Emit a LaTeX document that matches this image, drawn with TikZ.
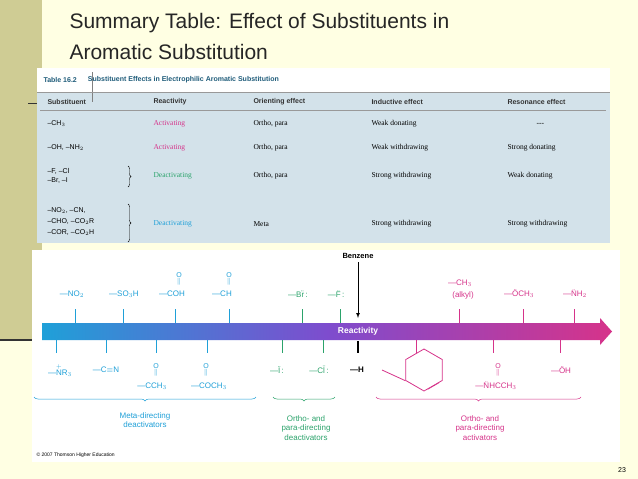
\documentclass[tikz,border=0pt]{standalone}
\usepackage{amsmath}
\usepackage{fontspec}
\setmainfont{Liberation Sans}
\newfontfamily\serif{Liberation Serif}
\usetikzlibrary{positioning,decorations.pathreplacing,shapes.geometric,calc}
\definecolor{slide}{HTML}{FFFFE3}
\definecolor{strip}{HTML}{CFCC94}
\definecolor{tbl}{HTML}{D3E2EA}
\definecolor{teal}{HTML}{1F5C7A}
\definecolor{meta}{HTML}{1FA0D8}
\definecolor{ogreen}{HTML}{2BA36B}
\definecolor{act}{HTML}{D6338A}
\tikzset{
  hd/.style={font=\fontsize{7}{8}\selectfont\bfseries, anchor=west, text=black!80},
  cell/.style={font=\fontsize{7.5}{9}\selectfont\serif, anchor=west},
  sub/.style={font=\fontsize{7}{8.5}\selectfont, anchor=west, align=left},
  chem/.style={font=\fontsize{8}{9}\selectfont, inner sep=1pt},
  grp/.style={font=\fontsize{8}{9.5}\selectfont, align=center},
  tick/.style={line width=0.7pt},
  brc/.style={decorate, decoration={brace, amplitude=4pt, mirror}, line width=0.5pt},
  sbrc/.style={decorate, decoration={brace, amplitude=3pt}, line width=0.4pt}
}
\begin{document}
\begin{tikzpicture}[x=1pt,y=-1pt]
\useasboundingbox (0,0) rectangle (638,479);
\fill[slide] (0,0) rectangle (638,479);
\fill[strip] (0,0) rectangle (42,340);
\draw[line width=1.5pt, black!80] (0,340) -- (32,340);
\draw[line width=1pt, black!80] (28,103) -- (38,103);
% title
\node (title) [anchor=north west, align=left, font=\fontsize{21}{31}\selectfont, text=black!85] at (66,10) {Summary Table: Effect of Substituents in\\Aromatic Substitution};

% table
\fill[white] (37,68) rectangle (610,92);
\fill[tbl] (37,92) rectangle (610,243);
\node (tnum) [hd, text=teal] at (40,80) {Table 16.2};
\draw[black!50] (92,72) -- (92,102);
\node (tcap) [hd, text=teal, right=4pt of tnum] {Substituent Effects in Electrophilic Aromatic Substitution};
\draw[black!40] (37,92) -- (610,92);
\draw[black!40] (40,110) -- (606,110);
\node (h1) [hd] at (44,102) {Substituent};
\node (h2) [hd] at (150,102) {Reactivity};
\node (h3) [hd] at (250,102) {Orienting effect};
\node (h4) [hd] at (368,102) {Inductive effect};
\node (h5) [hd] at (504,102) {Resonance effect};
% rows
\node (s1) [sub] at (44,124) {--CH$_3$};
\node (r1) [cell, text=act] at (150,124) {Activating};
\node (o1) [cell] at (250,124) {Ortho, para};
\node (i1) [cell] at (368,124) {Weak donating};
\node (e1) [cell] at (533,124) {---};
\node (s2) [sub] at (44,148) {--OH, --NH$_2$};
\node (r2) [cell, text=act] at (150,148) {Activating};
\node (o2) [cell] at (250,148) {Ortho, para};
\node (i2) [cell] at (368,148) {Weak withdrawing};
\node (e2) [cell] at (504,148) {Strong donating};
\node (s3) [sub] at (44,176) {--F, --Cl\\--Br, --I};
\draw[sbrc] (128,166) -- (128,187);
\node (r3) [cell, text=ogreen] at (150,176) {Deactivating};
\node (o3) [cell] at (250,176) {Ortho, para};
\node (i3) [cell] at (368,176) {Strong withdrawing};
\node (e3) [cell] at (504,176) {Weak donating};
\node (s4) [sub, font=\fontsize{7}{11}\selectfont] at (44,222) {--NO$_2$, --CN,\\--CHO, --CO$_2$R\\--COR, --CO$_2$H};
\draw[sbrc] (128,204) -- (128,242);
\node (r4) [cell, text=meta] at (150,224) {Deactivating};
\node (o4) [cell] at (250,224) {Meta};
\node (i4) [cell] at (368,224) {Strong withdrawing};
\node (e4) [cell] at (504,224) {Strong withdrawing};

% reactivity figure
\fill[white] (32,250) rectangle (620,462);
\shade[left color=meta, right color=act, middle color=blue!45!violet!70]
  (42,323) -- (600,323) -- (600,318) -- (612,331.5) -- (600,345) -- (600,340) -- (42,340) -- cycle;
\node (react) [font=\fontsize{8.5}{9}\selectfont\bfseries, text=white] at (358,331.5) {Reactivity};
\node (benz) [font=\fontsize{7.5}{9}\selectfont\bfseries] at (358,256) {Benzene};
\coordinate (benzend) at (358,318);
\draw[-latex, line width=0.7pt] (benz) -- (benzend);
% ticks
\foreach \x in {75,123,175,229} \draw[tick, meta] (\x,309) -- (\x,323);
\foreach \x in {302,340} \draw[tick, ogreen] (\x,309) -- (\x,323);
\foreach \x in {459,523,574} \draw[tick, act] (\x,309) -- (\x,323);
\foreach \x in {56,106,156,207} \draw[tick, meta] (\x,340) -- (\x,353);
\foreach \x in {282,323} \draw[tick, ogreen] (\x,340) -- (\x,353);
\foreach \x in {416,493,560} \draw[tick, act] (\x,340) -- (\x,353);
\draw[line width=1.6pt] (358,341) -- (358,353);
% top labels
\node (no2) [chem, text=meta] at (72,294) {---NO$_2$};
\node (so3h) [chem, text=meta] at (124,294) {---SO$_3$H};
\node (coh) [chem, text=meta] at (172,294) {---COH};
\node (coho) [chem, text=meta, align=center, font=\fontsize{7}{5}\selectfont] at (179,279) {O\\$\|$};
\node (ch) [chem, text=meta] at (222,294) {---CH};
\node (cho) [chem, text=meta, align=center, font=\fontsize{7}{5}\selectfont] at (229,279) {O\\$\|$};
\node (br) [chem, text=ogreen] at (298,294) {---B\"r\,:};
\node (f) [chem, text=ogreen] at (336,294) {---\"F\,:};
\node (ch3) [chem, text=act] at (460,283) {---CH$_3$};
\node (alkyl) [chem, text=act] at (463,295) {(alkyl)};
\node (och3) [chem, text=act] at (519,294) {---\"OCH$_3$};
\node (nh2) [chem, text=act] at (575,294) {---\"NH$_2$};
% bottom labels
\node (nr3) [chem, text=meta] at (60,370) {---$\overset{+}{\mathrm{N}}$R$_3$};
\node (cn) [chem, text=meta] at (106,370) {---C$\equiv$N};
\node (cch3) [chem, text=meta] at (152,386) {---CCH$_3$};
\node (cch3o) [chem, text=meta, align=center, font=\fontsize{7}{5}\selectfont] at (156,370) {O\\$\|$};
\node (coch3) [chem, text=meta] at (209,386) {---COCH$_3$};
\node (coch3o) [chem, text=meta, align=center, font=\fontsize{7}{5}\selectfont] at (206,370) {O\\$\|$};
\node (iod) [chem, text=ogreen] at (277,370) {---\"I\,:};
\node (cl) [chem, text=ogreen] at (319,370) {---C\"l\,:};
\node (hyd) [chem, font=\fontsize{8}{9}\selectfont\bfseries] at (357,370) {---H};
\node[draw=act, line width=0.8pt, regular polygon, regular polygon sides=6, minimum size=42pt, inner sep=0pt, rotate=90] (ring) at (424,370) {};
\coordinate (rstub) at (382,370);
\draw[act, line width=0.8pt] (rstub) -- (ring.corner 2);
\draw[act, line width=0.6pt] ($(ring.corner 3)!0.2!(ring.corner 4)$) -- ($(ring.corner 3)!0.8!(ring.corner 4)$);
\node (nhcch3) [chem, text=act] at (496,386) {---\"NHCCH$_3$};
\node (nhco) [chem, text=act, align=center, font=\fontsize{7}{5}\selectfont] at (498,370) {O\\$\|$};
\node (oh) [chem, text=act] at (561,370) {---\"OH};
% braces
\draw[brc, meta] (34,397) -- (256,397);
\draw[brc, ogreen] (273,397) -- (335,397);
\draw[brc, act] (376,397) -- (581,397);
\node (gmeta) [grp, text=meta] at (145,420) {Meta-directing\\deactivators};
\node (gortho) [grp, text=ogreen] at (306,428) {Ortho- and\\para-directing\\deactivators};
\node (gact) [grp, text=act] at (480,428) {Ortho- and\\para-directing\\activators};
\node (copy) [anchor=west, font=\fontsize{5}{6}\selectfont] at (33,455) {\textcopyright{} 2007 Thomson Higher Education};
\node (pg) [font=\fontsize{7}{8}\selectfont] at (622,470) {23};
\end{tikzpicture}
\end{document}
